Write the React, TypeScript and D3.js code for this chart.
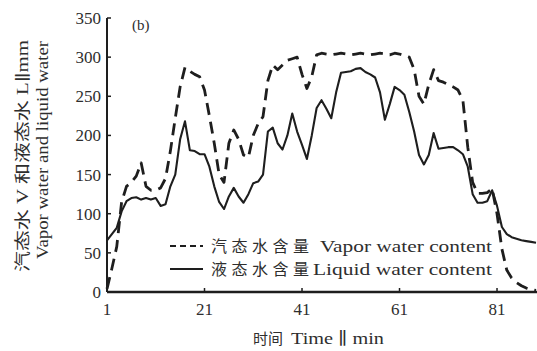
import React from "react";
import * as d3 from "d3";

// minutes 1..89
const minutes = d3.range(1, 90);

// 汽态水含量 Vapor water content (mm)
const vapor = [
  4, 30, 58, 115, 135, 140, 148, 165, 135, 130,
  130, 133, 145, 180, 222, 262, 287, 282, 278, 275,
  258, 225, 190, 150, 140, 190, 207, 195, 175, 172,
  200, 215, 224, 270, 290, 284, 290, 296, 298, 300,
  278, 260, 275, 303, 305, 304, 303, 304, 305, 304,
  303, 304, 305, 304, 303, 304, 305, 304, 303, 305,
  304, 302, 300, 284, 250, 240, 265, 284, 270, 268,
  265, 262, 258, 245, 185, 140, 126, 126, 127, 132,
  100, 55, 28, 18, 12, 8, 5, 3, 2,
];

// 液态水含量 Liquid water content (mm)
const liquid = [
  66, 74, 82, 103, 116, 120, 121, 118, 120, 118,
  120, 110, 112, 135, 150, 195, 218, 181, 180, 176,
  176, 160, 135, 115, 106, 122, 133, 122, 114, 125,
  139, 141, 150, 205, 210, 190, 182, 200, 228, 205,
  188, 170, 200, 235, 245, 234, 222, 255, 280, 281,
  282, 285, 286, 281, 278, 274, 255, 220, 240, 262,
  258, 252, 230, 205, 175, 163, 175, 203, 183, 184,
  185, 185, 181, 176, 160, 125, 114, 114, 116, 130,
  110, 83, 74, 70, 68, 66, 65, 64, 63,
];

const xTicks = [1, 21, 41, 61, 81];
const yTicks = [0, 50, 100, 150, 200, 250, 300, 350];

const serif = "'Liberation Serif', 'DejaVu Serif', serif";
const cjk = "'Noto Sans CJK SC', sans-serif";
const ink = "#1e1e1e";
const txt = "#2e2e2e";

export default function App() {
  const x = d3.scaleLinear().domain([1, 89.2]).range([107, 537]);
  const y = d3.scaleLinear().domain([0, 350]).range([292, 18]);

  const line = d3
    .line<number>()
    .x((_, i) => x(minutes[i]))
    .y((d) => y(d))
    .curve(d3.curveLinear);

  return (
    <svg
      width={537}
      height={351}
      style={{ position: "absolute", left: 0, top: 0, background: "#fff" }}
    >
      {/* axes */}
      <line x1={107} x2={107} y1={y(350)} y2={y(0)} stroke={ink} strokeWidth={2} />
      <line x1={107} x2={537} y1={y(0)} y2={y(0)} stroke={ink} strokeWidth={2.5} />
      {yTicks.map((t) => (
        <g key={"y" + t}>
          <line x1={107} x2={111} y1={y(t)} y2={y(t)} stroke={ink} strokeWidth={1.5} />
          <text
            x={101}
            y={y(t)}
            dy="0.35em"
            textAnchor="end"
            fontFamily={serif}
            fontSize={17}
            fill={txt}
          >
            {t}
          </text>
        </g>
      ))}
      {xTicks.map((t) => (
        <g key={"x" + t}>
          <line x1={x(t)} x2={x(t)} y1={y(0)} y2={y(0) - 4} stroke={ink} strokeWidth={1.5} />
          <text
            x={x(t)}
            y={315}
            textAnchor="middle"
            fontFamily={serif}
            fontSize={17}
            fill={txt}
          >
            {t}
          </text>
        </g>
      ))}

      {/* series */}
      <path d={line(liquid) ?? ""} fill="none" stroke={ink} strokeWidth={2.1} strokeLinejoin="round" />
      <path
        d={line(vapor) ?? ""}
        fill="none"
        stroke={ink}
        strokeWidth={2.8}
        strokeDasharray="12,7"
        strokeLinejoin="round"
      />

      {/* panel label */}
      <text x={132} y={30} fontFamily={serif} fontSize={15} fill={txt}>
        (b)
      </text>

      {/* legend */}
      <line x1={170} x2={203} y1={246} y2={246} stroke={ink} strokeWidth={1.8} strokeDasharray="6,4" />
      <text x={211} y={252} fontFamily={cjk} fontSize={16} fill={txt} textLength={98} lengthAdjust="spacing">
        汽态水含量
      </text>
      <text x={320} y={252} fontFamily={serif} fontSize={17} fill={txt} textLength={172} lengthAdjust="spacingAndGlyphs">
        Vapor water content
      </text>
      <line x1={170} x2={203} y1={269} y2={269} stroke={ink} strokeWidth={2} />
      <text x={211} y={275} fontFamily={cjk} fontSize={16} fill={txt} textLength={98} lengthAdjust="spacing">
        液态水含量
      </text>
      <text x={313} y={275} fontFamily={serif} fontSize={17} fill={txt} textLength={179} lengthAdjust="spacingAndGlyphs">
        Liquid water content
      </text>

      {/* y axis title */}
      <text
        transform="translate(28,156) rotate(-90)"
        textAnchor="middle"
        fontFamily={serif}
        fontSize={16}
        fill={txt}
        textLength={232}
        lengthAdjust="spacingAndGlyphs"
      >
        <tspan fontFamily={cjk}>汽态水</tspan> V <tspan fontFamily={cjk}>和液态水</tspan> L∥mm
      </text>
      <text
        transform="translate(48,150) rotate(-90)"
        textAnchor="middle"
        fontFamily={serif}
        fontSize={16}
        fill={txt}
        textLength={218}
        lengthAdjust="spacingAndGlyphs"
      >
        Vapor water and liquid water
      </text>

      {/* x axis title */}
      <text x={253} y={344} fontFamily={cjk} fontSize={15} fill={txt} textLength={30} lengthAdjust="spacing">
        时间
      </text>
      <text x={291} y={344} fontFamily={serif} fontSize={17} fill={txt} textLength={93} lengthAdjust="spacingAndGlyphs">
        Time ∥ min
      </text>
    </svg>
  );
}
